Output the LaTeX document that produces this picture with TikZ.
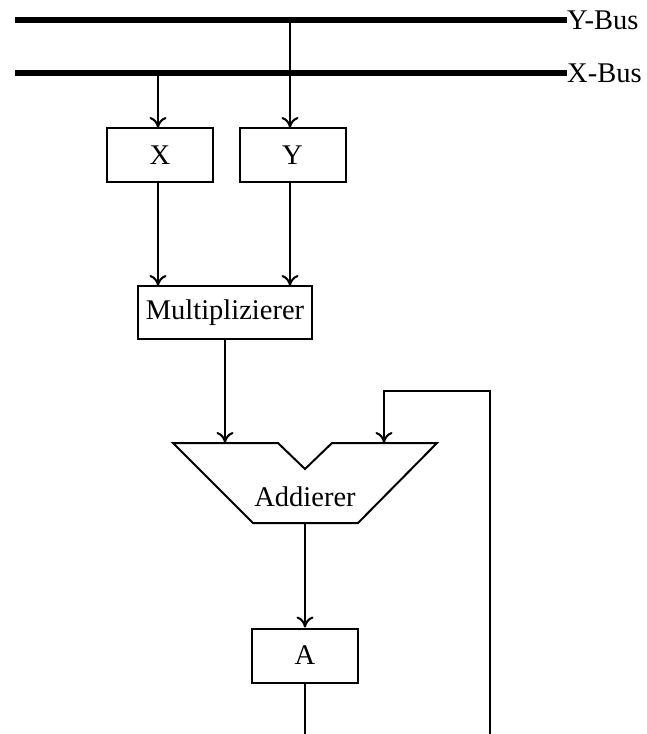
\documentclass[tikz,border=0pt]{standalone}
\usepackage{fontspec}
\setmainfont{Liberation Serif}
\usetikzlibrary{arrows.meta}
\begin{document}
\begin{tikzpicture}[x=1pt,y=-1pt,
  every node/.style={font=\fontsize{28.5}{32}\selectfont},
  bus/.style={line width=6pt},
  wire/.style={line width=2pt},
  arrow/.style={wire,-{To[length=11pt,width=17pt,line width=2pt]}},
  reg/.style={draw,line width=2pt,minimum width=106pt,minimum height=54pt,inner sep=0pt},
  buslabel/.style={anchor=west,inner sep=0pt}]
\useasboundingbox (0,0) rectangle (646,734);

% buses
\coordinate (ybL) at (15,20);
\coordinate (xbL) at (15,73);
\node[buslabel] (ybus) at (567,20) {Y-Bus};
\node[buslabel] (xbus) at (567,73) {X-Bus};
\draw[bus] (ybL) -- (ybus.west);
\draw[bus] (xbL) -- (xbus.west);

% operand registers and multiplier
\node[reg] (X) at (160,155) {X};
\node[reg] (Y) at (292.5,155) {Y};
\node[reg,minimum width=174pt,minimum height=53pt] (mul) at (225,312.5) {Multiplizierer};

\coordinate (xtap) at (158,73);
\coordinate (ytap) at (290,20);
\coordinate (xin) at (158,128);
\coordinate (yin) at (290,128);
\draw[arrow] (xtap) -- (xin);
\draw[arrow] (ytap) -- (yin);

\coordinate (xout) at (158,182);
\coordinate (yout) at (290,182);
\coordinate (mulx) at (158,286);
\coordinate (muly) at (290,286);
\draw[arrow] (xout) -- (mulx);
\draw[arrow] (yout) -- (muly);

% adder
\draw[wire,line join=miter] (173,443) -- (278,443) -- (305,469) -- (332,443)
  -- (437,443) -- (358,523) -- (253,523) -- cycle;
\node (add) at (305,497) {Addierer};
\coordinate (addin1) at (225,443);
\coordinate (addin2) at (384,443);
\coordinate (addout) at (305,523);

\draw[arrow] (mul.south) -- (addin1);

% accumulator
\node[reg] (A) at (305,655.5) {A};
\draw[arrow] (addout) -- (A.north);
\coordinate (aend) at (305,734);
\draw[wire] (A.south) -- (aend);

% feedback path
\coordinate (fbBot) at (490,734);
\coordinate (fbTop) at (490,391);
\coordinate (fbCorner) at (384,391);
\draw[arrow] (fbBot) -- (fbTop) -- (fbCorner) -- (addin2);
\end{tikzpicture}
\end{document}
